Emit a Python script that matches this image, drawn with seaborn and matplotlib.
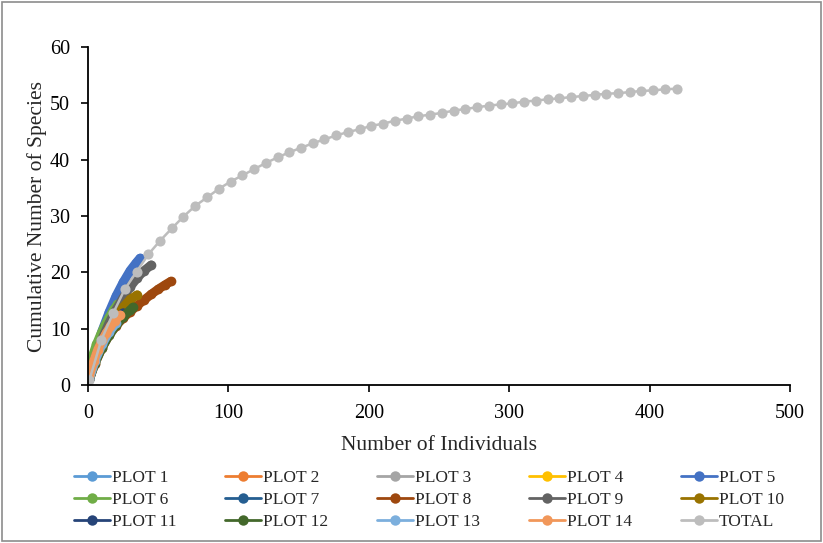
"""
Species accumulation curves per plot and for all plots together
"""

import pandas as pd
import matplotlib.pyplot as plt
from matplotlib.lines import Line2D
from matplotlib.patches import Rectangle
import seaborn as sns

sns.set_style('white')
plt.rcParams['font.family'] = ['Liberation Serif', 'DejaVu Serif']

# series (individuals, cumulative species)
plot_names = ['PLOT 1', 'PLOT 2', 'PLOT 3', 'PLOT 4', 'PLOT 5',
              'PLOT 6', 'PLOT 7', 'PLOT 8', 'PLOT 9', 'PLOT 10',
              'PLOT 11', 'PLOT 12', 'PLOT 13', 'PLOT 14', 'TOTAL']

plot_colors = ['#5B9BD5', '#ED7D31', '#A5A5A5', '#FFC000', '#4472C4',
               '#70AD47', '#255E91', '#9E480E', '#636363', '#997300',
               '#264478', '#43682B', '#7CAFDD', '#F1975A', '#BDBDBD']

plot1_x = [1, 5, 10, 15, 20, 25]
plot1_y = [1.0, 4.8, 7.9, 10.2, 12.0, 13.4]
plot2_x = [1, 5, 10, 15, 20, 24]
plot2_y = [1.0, 4.2, 7.2, 9.4, 11.2, 12.3]
plot3_x = [1, 5, 10, 15, 20, 25, 30]
plot3_y = [1.0, 4.6, 7.8, 10.1, 12.0, 13.5, 14.6]
plot4_x = [1, 5, 10, 15, 20]
plot4_y = [1.0, 4.5, 7.4, 9.6, 11.2]
plot5_x = [1, 5, 10, 15, 20, 25, 30, 34, 37]
plot5_y = [1.0, 5.6, 9.6, 12.9, 15.8, 18.2, 20.3, 21.6, 22.5]
plot6_x = [0, 3, 6, 9, 12, 15, 18, 21]
plot6_y = [2.5, 5.0, 7.2, 9.0, 10.6, 12.0, 13.3, 14.3]
plot7_x = [1, 5, 10, 15, 20, 25, 28]
plot7_y = [1.0, 4.6, 7.6, 9.9, 11.7, 13.0, 13.7]
plot8_x = [1, 5, 10, 15, 20, 25, 30, 35, 40, 45, 50, 55, 59]
plot8_y = [1.0, 3.8, 6.6, 8.8, 10.5, 11.9, 13.0, 14.1, 15.1, 16.1, 17.0, 17.8, 18.4]
plot9_x = [1, 5, 10, 15, 20, 25, 30, 35, 40, 45]
plot9_y = [1.0, 4.8, 8.2, 11.0, 13.4, 15.5, 17.4, 19.0, 20.3, 21.3]
plot10_x = [1, 5, 10, 15, 20, 25, 30, 35]
plot10_y = [1.0, 4.3, 7.4, 9.9, 12.0, 13.8, 15.2, 16.0]
plot11_x = [1, 5, 10, 15, 20, 25]
plot11_y = [1.0, 4.4, 7.3, 9.6, 11.4, 12.8]
plot12_x = [1, 5, 10, 15, 20, 25, 30, 32]
plot12_y = [1.0, 3.9, 6.6, 8.8, 10.6, 12.1, 13.3, 13.8]
plot13_x = [1, 5, 10, 15, 20]
plot13_y = [1.0, 4.3, 7.2, 9.4, 11.0]
plot14_x = [1, 4, 7, 10, 13, 16, 19, 23]
plot14_y = [1.6, 4.2, 6.3, 7.9, 9.2, 10.4, 11.4, 12.4]

total_x = [1, 9.5, 17.8, 26.2, 34.6, 43, 51.3, 59.7, 68, 76.4, 84.8, 93.1,
           101.5, 109.9, 118.2, 126.6, 135, 143.3, 151.7, 160, 168.4, 176.8,
           185.1, 193.5, 201.9, 210.2, 218.6, 227, 235.3, 243.7, 252, 260.4,
           268.8, 277.1, 285.5, 293.9, 302.2, 310.6, 319, 327.3, 335.7, 344,
           352.4, 360.8, 369.1, 377.5, 385.9, 394.2, 402.6, 411, 419.3]
total_y = [0.9, 8.0, 12.7, 17.0, 20.1, 23.2, 25.6, 27.8, 29.9, 31.8, 33.3,
           34.8, 36.1, 37.2, 38.3, 39.4, 40.4, 41.3, 42.1, 42.9, 43.6, 44.3,
           44.9, 45.4, 46.0, 46.4, 46.9, 47.3, 47.7, 48.0, 48.3, 48.7, 49.0,
           49.3, 49.6, 49.8, 50.0, 50.3, 50.5, 50.7, 50.9, 51.1, 51.3, 51.5,
           51.7, 51.8, 52.0, 52.2, 52.3, 52.5, 52.6]

series_x = [plot1_x, plot2_x, plot3_x, plot4_x, plot5_x, plot6_x, plot7_x,
            plot8_x, plot9_x, plot10_x, plot11_x, plot12_x, plot13_x,
            plot14_x, total_x]
series_y = [plot1_y, plot2_y, plot3_y, plot4_y, plot5_y, plot6_y, plot7_y,
            plot8_y, plot9_y, plot10_y, plot11_y, plot12_y, plot13_y,
            plot14_y, total_y]


def build_frame():
    """
    stack all series into one long dataframe
    """
    frames = []
    for name, xs, ys in zip(plot_names, series_x, series_y):
        frames.append(pd.DataFrame({'plot': name, 'individuals': xs, 'species': ys}))
    return pd.concat(frames, ignore_index=True)


def draw(df):
    """
    draw the accumulation curves and save to out.png
    """
    fig = plt.figure(figsize=(8.23, 5.43), dpi=100)
    ax = fig.add_axes([88 / 823, 1 - 385 / 543, 702 / 823, 338 / 543])
    palette = dict(zip(plot_names, plot_colors))

    # plots drawn in order so later ones sit on top, TOTAL last
    for name in plot_names:
        part = df[df['plot'] == name]
        is_total = name == 'TOTAL'
        sns.lineplot(data=part, x='individuals', y='species', color=palette[name],
                     marker='o', markersize=7.3 if is_total else 7,
                     markeredgewidth=0, linewidth=1.8 if is_total else 6.5,
                     sort=False, estimator=None, ax=ax, legend=False)

    ax.set_xlim(0, 500)
    ax.set_ylim(0, 60)
    ax.set_xticks(range(0, 501, 100))
    ax.set_yticks(range(0, 61, 10))
    ax.tick_params(axis='both', direction='out', length=5, width=1.2,
                   labelsize=14.5, colors='black', bottom=True, left=True)
    ax.tick_params(axis='y', pad=8)
    ax.tick_params(axis='x', pad=9)
    sns.despine(ax=ax)
    for side in ['left', 'bottom']:
        ax.spines[side].set_color('black')
        ax.spines[side].set_linewidth(1.3)
    ax.set_xlabel('Number of Individuals', fontsize=15.5, labelpad=9)
    ax.set_ylabel('Cumulative Number of Species', fontsize=15.5, labelpad=2)

    # legend filled row by row, 5 columns
    handles = [Line2D([0], [0], color=c, lw=2, marker='o', markersize=7.5,
                      markeredgewidth=0) for c in plot_colors]
    order = [r * 5 + c for c in range(5) for r in range(3)]
    fig.legend([handles[i] for i in order], [plot_names[i] for i in order],
               ncol=5, loc='upper left', bbox_to_anchor=(58 / 823, 1 - 454 / 543),
               frameon=False, fontsize=12.5, handlelength=2.1,
               handletextpad=0.1, columnspacing=2.8, labelspacing=0.35)

    fig.patches.append(Rectangle((0.003, 0.004), 0.994, 0.992, transform=fig.transFigure,
                                 fill=False, edgecolor='#8c8c8c', linewidth=1.2))
    fig.savefig('out.png', dpi=100)
    plt.close(fig)


if __name__ == '__main__':
    data = build_frame()
    draw(data)
